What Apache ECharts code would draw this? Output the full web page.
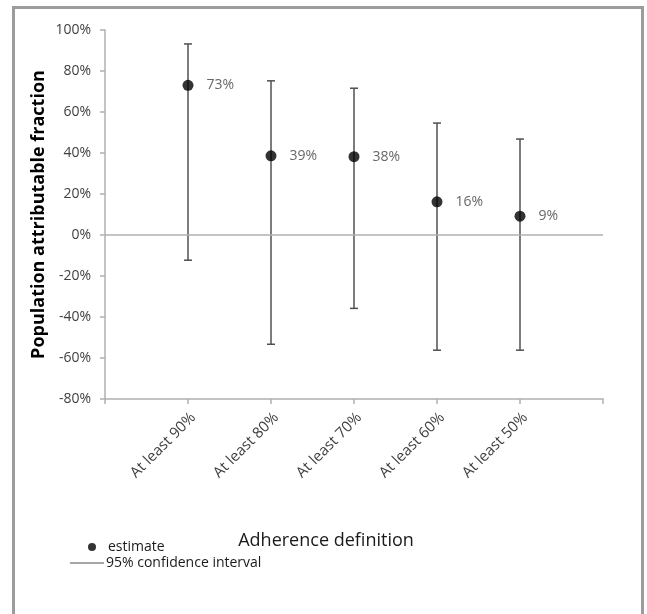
<!DOCTYPE html>
<html>
<head>
<meta charset="utf-8">
<script src="https://cdn.jsdelivr.net/npm/echarts@6/dist/echarts.min.js"></script>
<style>
html,body{margin:0;padding:0;background:#fff;}
#chart{width:647px;height:614px;}
</style>
</head>
<body>
<div id="chart"></div>
<script>
var categories = ['At least 90%', 'At least 80%', 'At least 70%', 'At least 60%', 'At least 50%'];
var estimates = [73, 38.6, 38.2, 16.2, 9.2];
var estimateLabels = ['73%', '39%', '38%', '16%', '9%'];
var ciLower = [-12.3, -53.3, -35.8, -56.2, -56.2];
var ciUpper = [93.2, 75.2, 71.6, 54.6, 46.8];
var yTicks = [-80, -60, -40, -20, 0, 20, 40, 60, 80, 100];

var FONT = '"Open Sans", "Liberation Sans", sans-serif';

var pointData = estimates.map(function (v, i) { return [i + 1, v, estimateLabels[i]]; });
var ciData = estimates.map(function (v, i) { return [i + 1, ciLower[i], ciUpper[i]]; });

var chart = echarts.init(document.getElementById('chart'));
chart.setOption({
  animation: false,
  backgroundColor: '#fff',
  textStyle: { fontFamily: FONT },
  graphic: [{
    type: 'rect',
    shape: { x: 13.5, y: 7.5, width: 629, height: 660 },
    style: { fill: 'none', stroke: '#9c9c9c', lineWidth: 3 },
    silent: true
  }],
  title: {
    text: 'Adherence definition',
    left: 321,
    top: 527,
    textAlign: 'center',
    textStyle: { fontFamily: FONT, fontSize: 18, fontWeight: 'normal', color: '#1a1a1a' }
  },
  legend: [{
    data: [{ name: 'estimate', icon: 'circle' }],
    orient: 'vertical',
    left: 88,
    top: 540,
    padding: 0,
    itemWidth: 8,
    itemHeight: 8,
    textStyle: { fontFamily: FONT, fontSize: 14, color: '#1a1a1a', padding: [0, 0, 0, 7] }
  }, {
    data: [{ name: '95% confidence interval', icon: 'rect' }],
    orient: 'vertical',
    left: 70,
    top: 556,
    padding: 0,
    itemWidth: 34,
    itemHeight: 1,
    textStyle: { fontFamily: FONT, fontSize: 14, color: '#1a1a1a', padding: [0, 0, 0, -3] }
  }],
  grid: { left: 105, right: 44, top: 30, bottom: 215, containLabel: false },
  xAxis: {
    type: 'value',
    min: 0,
    max: 6,
    interval: 1,
    splitLine: { show: false },
    axisLine: { show: true, onZero: false, lineStyle: { color: '#b0b0b0', width: 1.5 } },
    axisTick: { show: true, length: 5, lineStyle: { color: '#b0b0b0', width: 1.5 } },
    axisLabel: {
      rotate: 45,
      margin: 11,
      verticalAlign: 'top',
      fontFamily: FONT,
      fontSize: 15,
      color: '#404040',
      formatter: function (v) { return (v >= 1 && v <= categories.length) ? categories[v - 1] : ''; }
    }
  },
  yAxis: {
    type: 'value',
    min: yTicks[0],
    max: yTicks[yTicks.length - 1],
    interval: 20,
    name: 'Population attributable fraction',
    nameLocation: 'middle',
    nameGap: 57,
    nameMoveOverlap: false,
    nameTextStyle: { fontFamily: FONT, fontSize: 18, fontWeight: 'bold', color: '#000' },
    splitLine: { show: false },
    axisLine: { show: true, lineStyle: { color: '#b0b0b0', width: 1.5 } },
    axisTick: { show: true, length: 5, lineStyle: { color: '#b0b0b0', width: 1.5 } },
    axisLabel: {
      margin: 14,
      fontFamily: FONT,
      fontSize: 14,
      color: '#404040',
      formatter: function (v) { return v + '%'; }
    }
  },
  series: [{
    name: '95% confidence interval',
    type: 'custom',
    itemStyle: { color: '#505050' },
    data: ciData,
    z: 2,
    renderItem: function (params, api) {
      var x = api.value(0);
      var lo = api.coord([x, api.value(1)]);
      var hi = api.coord([x, api.value(2)]);
      var cap = 4;
      var st = { stroke: '#505050', lineWidth: 1.5, fill: null };
      return {
        type: 'group',
        children: [
          { type: 'line', shape: { x1: lo[0], y1: lo[1], x2: hi[0], y2: hi[1] }, style: st },
          { type: 'line', shape: { x1: lo[0] - cap, y1: lo[1], x2: lo[0] + cap, y2: lo[1] }, style: st },
          { type: 'line', shape: { x1: hi[0] - cap, y1: hi[1], x2: hi[0] + cap, y2: hi[1] }, style: st }
        ]
      };
    }
  }, {
    name: 'estimate',
    type: 'scatter',
    symbol: 'circle',
    symbolSize: 11,
    itemStyle: { color: '#000' },
    data: pointData,
    z: 3,
    label: {
      show: true,
      position: 'right',
      distance: 13,
      fontFamily: FONT,
      fontSize: 14,
      color: '#404040',
      formatter: function (p) { return p.data[2]; }
    },
    markLine: {
      silent: true,
      symbol: 'none',
      label: { show: false },
      lineStyle: { color: '#b0b0b0', width: 1.5, type: 'solid' },
      data: [{ yAxis: 0 }]
    }
  }]
});
</script>
</body>
</html>
